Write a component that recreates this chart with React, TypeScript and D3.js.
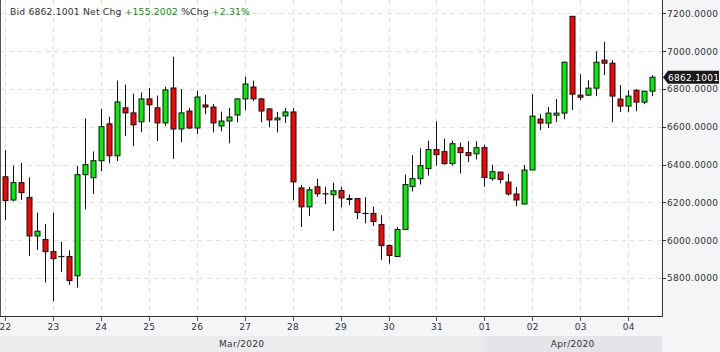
import React from 'react';
import * as d3 from 'd3';

// ---- data (4-hour candles starting 22 Mar 2020 00:00 UTC) ----
const START = Date.UTC(2020, 2, 22, 0);
const STEP_MS = 4 * 3600 * 1000;

const opens = [
  6335, 6212, 6304, 6226, 6022, 6003, 5939, 5913, 5913, 5811,
  6346, 6330, 6420, 6615, 6446, 6700, 6673, 6626, 6747, 6700,
  6620, 6805, 6588, 6683, 6593, 6715, 6704, 6604, 6630, 6662,
  6747, 6810, 6747, 6694, 6636, 6657, 6678, 6276, 6176, 6282,
  6245, 6240, 6262, 6215, 6220, 6141, 6141, 6082, 5971, 5913,
  6056, 6283, 6325, 6378, 6479, 6468, 6405, 6489, 6463, 6457,
  6489, 6325, 6360, 6307, 6244, 6191, 6371, 6640, 6619, 6661,
  6672, 7184, 6767, 6767, 6804, 6952, 6936, 6746, 6709, 6793,
  6730, 6788,
];
const highs = [
  6476, 6395, 6409, 6332, 6145, 6085, 6145, 5990, 5946, 6392,
  6643, 6469, 6694, 6652, 6844, 6823, 6775, 6781, 6805, 6765,
  6811, 6970, 6799, 6699, 6790, 6769, 6720, 6680, 6699, 6750,
  6864, 6843, 6752, 6699, 6678, 6699, 6699, 6292, 6282, 6324,
  6282, 6303, 6283, 6241, 6220, 6227, 6177, 6132, 5977, 6068,
  6346, 6449, 6486, 6526, 6628, 6537, 6526, 6515, 6523, 6523,
  6505, 6399, 6360, 6351, 6281, 6397, 6772, 6667, 6704, 6746,
  6945, 7186, 6878, 6846, 6999, 7049, 6952, 6820, 6793, 6799,
  6790, 6873,
];
const lows = [
  6106, 6205, 6212, 5916, 5948, 5776, 5675, 5832, 5763, 5748,
  6163, 6244, 6365, 6407, 6418, 6550, 6497, 6571, 6624, 6524,
  6603, 6430, 6518, 6588, 6560, 6666, 6570, 6576, 6512, 6623,
  6687, 6736, 6623, 6597, 6570, 6620, 6211, 6069, 6127, 6229,
  6190, 6048, 6174, 6185, 6111, 6089, 6075, 5896, 5876, 5913,
  6056, 6257, 6294, 6341, 6394, 6399, 6394, 6352, 6413, 6427,
  6283, 6315, 6300, 6235, 6179, 6191, 6371, 6582, 6593, 6624,
  6640, 6688, 6740, 6762, 6762, 6873, 6624, 6677, 6677, 6682,
  6719, 6762,
];
const closes = [
  6209, 6304, 6251, 6022, 6047, 5939, 5902, 5913, 5786, 6346,
  6399, 6420, 6600, 6446, 6731, 6673, 6610, 6747, 6716, 6620,
  6795, 6588, 6673, 6593, 6757, 6704, 6620, 6630, 6651, 6747,
  6826, 6747, 6683, 6636, 6646, 6678, 6308, 6176, 6266, 6245,
  6245, 6261, 6223, 6220, 6146, 6141, 6098, 5971, 5919, 6056,
  6294, 6325, 6394, 6479, 6452, 6405, 6510, 6463, 6447, 6489,
  6331, 6362, 6321, 6244, 6212, 6371, 6656, 6619, 6672, 6672,
  6941, 6772, 6756, 6804, 6941, 6936, 6762, 6709, 6762, 6730,
  6788, 6862.1001,
];

const yTicks = [5800, 6000, 6200, 6400, 6600, 6800, 7000, 7200];
const dayLabels = ['22', '23', '24', '25', '26', '27', '28', '29', '30', '31', '01', '02', '03', '04'];
const monthLabels = ['Mar/2020', 'Apr/2020'];
const lastPrice = '6862.1001';
const headerBid = 'Bid 6862.1001 Net Chg';
const headerNet = '+155.2002';
const headerPctLabel = '%Chg';
const headerPct = '+2.31%';

// ---- layout ----
const W = 720;
const H = 352;
const PL = 0;
const PR = 662;
const PT = 0;
const PB = 316;

const FONT = 'DejaVu Sans, sans-serif';
const UP = '#00f000';
const DOWN = '#ff0000';

export default function App() {
  const n = opens.length;
  const x = d3
    .scaleUtc()
    .domain([new Date(START), new Date(START + (n - 1) * STEP_MS)])
    .range([5.5, 5.5 + (n - 1) * 7.99]);
  const y = d3.scaleLinear().domain([5598.4, 7270.4]).range([PB, PT]);

  const days = d3.utcDay.range(new Date(START), new Date(Date.UTC(2020, 3, 5)));
  const aprStart = x(new Date(Date.UTC(2020, 3, 1))) - 1.5;

  const candles = opens.map((o, i) => ({
    t: new Date(START + i * STEP_MS),
    o,
    h: highs[i],
    l: lows[i],
    c: closes[i],
  }));

  const bw = 5;
  const lastY = y(closes[n - 1]);

  return (
    <svg
      width={W}
      height={H}
      style={{ position: 'fixed', left: 0, top: 0, display: 'block' }}
      fontFamily={FONT}
    >
      <rect x={0} y={0} width={W} height={H} fill="#f4f5f7" />
      <rect x={PL} y={PT} width={PR - PL} height={PB - PT} fill="#ffffff" />

      {/* month bands */}
      <rect x={0} y={336} width={aprStart} height={H - 336} fill="#ebecee" />
      <rect x={aprStart} y={336} width={PR - aprStart} height={H - 336} fill="#e4e5e8" />
      <text x={aprStart / 2} y={347} textAnchor="middle" fontSize={9} fill="#333" letterSpacing={0.3}>
        {monthLabels[0]}
      </text>
      <text x={(aprStart + PR) / 2} y={347} textAnchor="middle" fontSize={9} fill="#333" letterSpacing={0.3}>
        {monthLabels[1]}
      </text>

      {/* grid */}
      {yTicks.map((v) => (
        <line
          key={'gy' + v}
          x1={PL}
          x2={PR}
          y1={Math.round(y(v)) + 0.5}
          y2={Math.round(y(v)) + 0.5}
          stroke="#e2e2e2"
          strokeDasharray="5,4"
        />
      ))}
      {days.map((d, i) => (
        <line
          key={'gx' + i}
          x1={Math.floor(x(d)) + 0.5}
          x2={Math.floor(x(d)) + 0.5}
          y1={PT}
          y2={PB}
          stroke="#e2e2e2"
          strokeDasharray="5,4"
        />
      ))}

      {/* candles */}
      {candles.map((k, i) => {
        const cx = Math.floor(x(k.t)) + 0.5;
        const up = k.c >= k.o;
        const top = y(Math.max(k.o, k.c));
        const bot = y(Math.min(k.o, k.c));
        return (
          <g key={'c' + i}>
            <line x1={cx} x2={cx} y1={y(k.h)} y2={y(k.l)} stroke="#111" strokeWidth={1} />
            {k.o === k.c ? (
              <line x1={cx - 3} x2={cx + 3} y1={top} y2={top} stroke="#111" strokeWidth={1.2} />
            ) : (
              <rect
                x={cx - bw / 2}
                y={top}
                width={bw}
                height={Math.max(1, bot - top)}
                fill={up ? UP : DOWN}
                stroke="#111"
                strokeWidth={1}
              />
            )}
          </g>
        );
      })}

      {/* axes */}
      <line x1={0.5} x2={0.5} y1={PT} y2={PB} stroke="#555" />
      <line x1={PL} x2={PR + 1} y1={PB + 0.5} y2={PB + 0.5} stroke="#333" />
      <line x1={PR + 0.5} x2={PR + 0.5} y1={PT} y2={PB + 1} stroke="#333" />

      {days.map((d, i) => (
        <g key={'xt' + i}>
          <line
            x1={Math.floor(x(d)) + 0.5}
            x2={Math.floor(x(d)) + 0.5}
            y1={PB}
            y2={PB + 5}
            stroke="#555"
          />
          <text x={x(d)} y={330} textAnchor="middle" fontSize={9} fill="#333" letterSpacing={0.3}>
            {dayLabels[i]}
          </text>
        </g>
      ))}

      {yTicks.map((v) => (
        <g key={'yt' + v}>
          <line x1={PR} x2={PR + 4} y1={Math.round(y(v)) + 0.5} y2={Math.round(y(v)) + 0.5} stroke="#333" />
          <text x={PR + 5} y={y(v) + 3.5} fontSize={9} fill="#333" letterSpacing={0.3}>
            {d3.format('.4f')(v)}
          </text>
        </g>
      ))}

      {/* last price marker */}
      <path
        d={`M${PR + 1},${lastY} L${PR + 6},${lastY - 6.5} L${W - 1},${lastY - 6.5} L${W - 1},${lastY + 6.5} L${PR + 6},${lastY + 6.5} Z`}
        fill="#1a1a1a"
      />
      <text x={PR + 6} y={lastY + 3.5} fontSize={9} fill="#ffffff" letterSpacing={0.3}>
        {lastPrice}
      </text>

      {/* header */}
      <text x={10} y={14.5} fontSize={9.2} fill="#333" letterSpacing={0.2}>
        <tspan>{headerBid} </tspan>
        <tspan fill="#009a00">{headerNet}</tspan>
        <tspan> {headerPctLabel} </tspan>
        <tspan fill="#009a00">{headerPct}</tspan>
      </text>
    </svg>
  );
}
